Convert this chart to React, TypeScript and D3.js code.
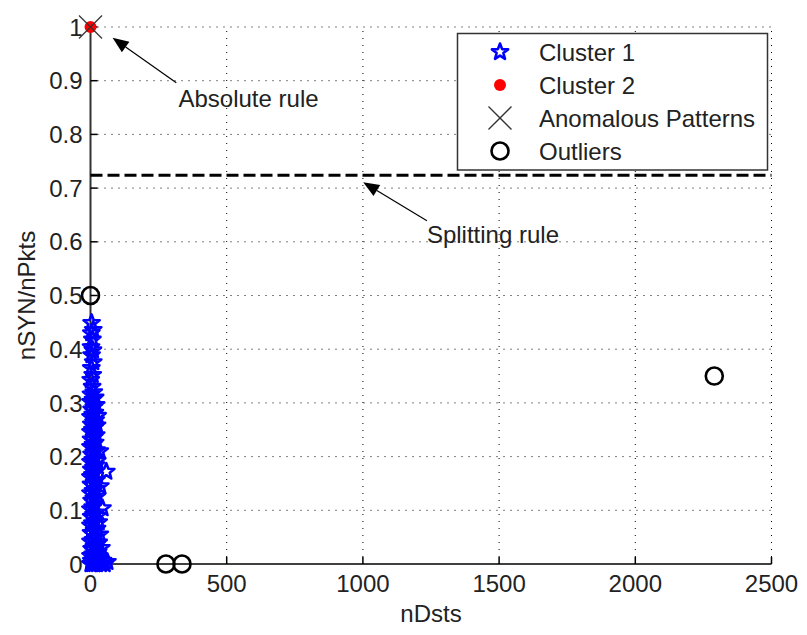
import React from "react";
import * as d3 from "d3";

const W = 807;
const H = 635;

const xTicks = [0, 500, 1000, 1500, 2000, 2500];
const xTickLabels = ["0", "500", "1000", "1500", "2000", "2500"];
const yTicks = [0, 0.1, 0.2, 0.3, 0.4, 0.5, 0.6, 0.7, 0.8, 0.9, 1];
const yTickLabels = ["0", "0.1", "0.2", "0.3", "0.4", "0.5", "0.6", "0.7", "0.8", "0.9", "1"];

// Cluster 1: [nDsts, nSYN/nPkts]
const cluster1: [number, number][] = [
  [0, 0], [6, 0], [14, 0], [24, 0], [38, 0], [52, 0], [62, 0.004],
  [3, 0.006], [11, 0.008], [20, 0.01], [32, 0.012], [46, 0.006],
  [0, 0.015], [8, 0.018], [16, 0.02], [28, 0.022], [40, 0.03],
  [4, 0.028], [12, 0.032], [22, 0.036], [30, 0.04],
  [0, 0.042], [9, 0.045], [18, 0.05], [34, 0.055],
  [2, 0.058], [13, 0.062], [24, 0.066],
  [0, 0.072], [7, 0.076], [16, 0.08], [30, 0.078],
  [3, 0.088], [11, 0.092], [20, 0.096], [26, 0.09],
  [0, 0.102], [8, 0.106], [16, 0.11], [44, 0.104],
  [4, 0.118], [12, 0.122], [24, 0.126],
  [0, 0.132], [9, 0.136], [17, 0.14], [36, 0.145],
  [2, 0.148], [13, 0.152], [22, 0.156],
  [0, 0.162], [7, 0.166], [15, 0.17], [58, 0.172],
  [3, 0.176], [11, 0.18], [20, 0.184],
  [0, 0.19], [8, 0.194], [16, 0.198], [25, 0.192],
  [4, 0.204], [12, 0.208], [22, 0.212], [34, 0.21],
  [0, 0.218], [9, 0.222], [17, 0.226],
  [2, 0.232], [13, 0.236], [21, 0.24],
  [0, 0.246], [7, 0.25], [15, 0.254], [24, 0.258],
  [3, 0.26], [11, 0.264], [19, 0.268],
  [0, 0.274], [8, 0.278], [16, 0.282], [26, 0.276],
  [4, 0.288], [12, 0.292], [20, 0.296],
  [0, 0.302], [9, 0.306], [17, 0.31],
  [2, 0.316], [12, 0.32], [6, 0.33],
  [1, 0.343], [8, 0.352], [3, 0.365], [10, 0.376], [4, 0.389],
  [9, 0.398], [2, 0.404], [7, 0.418], [3, 0.43], [10, 0.436], [4, 0.449],
];

const cluster2: [number, number][] = [[0, 1]];
const anomalous: [number, number][] = [[0, 1]];
const outliers: [number, number][] = [[0, 0.5], [277, 0], [336, 0], [2290, 0.35]];

const splitValue = 0.724;

const legendLabels = ["Cluster 1", "Cluster 2", "Anomalous Patterns", "Outliers"];

const annotations = [
  { text: "Absolute rule", textPos: [323, 0.851], tail: [315, 0.896], tip: [81, 0.98] },
  { text: "Splitting rule", textPos: [1235, 0.598], tail: [1235, 0.639], tip: [1001, 0.711] },
];

const FONT = "'Liberation Sans', Arial, Helvetica, sans-serif";

function starPath(cx: number, cy: number, R: number) {
  const r = R * 0.42;
  const pts: string[] = [];
  for (let i = 0; i < 10; i++) {
    const a = -Math.PI / 2 + (i * Math.PI) / 5;
    const rr = i % 2 === 0 ? R : r;
    pts.push(`${cx + rr * Math.cos(a)},${cy + rr * Math.sin(a)}`);
  }
  return "M" + pts.join("L") + "Z";
}

function Star({ cx, cy }: { cx: number; cy: number }) {
  return <path d={starPath(cx, cy, 8.5)} fill="none" stroke="#0000ff" strokeWidth={2.6} strokeLinejoin="round" />;
}
function RedDot({ cx, cy }: { cx: number; cy: number }) {
  return <circle cx={cx} cy={cy} r={6} fill="#ff0000" />;
}
function Cross({ cx, cy }: { cx: number; cy: number }) {
  const s = 11.5;
  return (
    <g stroke="#333" strokeWidth={1.3}>
      <line x1={cx - s} y1={cy - s} x2={cx + s} y2={cy + s} />
      <line x1={cx - s} y1={cy + s} x2={cx + s} y2={cy - s} />
    </g>
  );
}
function Ring({ cx, cy }: { cx: number; cy: number }) {
  return <circle cx={cx} cy={cy} r={8.5} fill="none" stroke="#000" strokeWidth={2.6} />;
}

export default function App() {
  const x = d3.scaleLinear().domain([0, 2500]).range([90.5, 771.5]);
  const y = d3.scaleLinear().domain([0, 1]).range([564, 27]);

  const x0 = x(0);
  const x1 = x(2500);
  const y0 = y(0);
  const y1 = y(1);

  return (
    <svg
      width={W}
      height={H}
      viewBox={`0 0 ${W} ${H}`}
      style={{ position: "absolute", left: 0, top: 0, background: "#fff" }}
      fontFamily={FONT}
    >
      <rect x={0} y={0} width={W} height={H} fill="#fff" />
      {/* grid */}
      <g stroke="#000" strokeWidth={1} strokeDasharray="1 6">
        {xTicks.filter((t) => t !== 0).map((t) => (
          <line key={"gx" + t} x1={x(t)} x2={x(t)} y1={y0} y2={y1} />
        ))}
        {yTicks.filter((t) => t !== 0).map((t) => (
          <line key={"gy" + t} x1={x0} x2={x1} y1={y(t)} y2={y(t)} />
        ))}
      </g>
      {/* axes */}
      <line x1={x0} x2={x0} y1={y0} y2={y1} stroke="#333" strokeWidth={2} />
      <line x1={x0} x2={x1} y1={y0} y2={y0} stroke="#000" strokeWidth={1.5} />
      <g stroke="#000" strokeWidth={1.5}>
        {xTicks.map((t) => (
          <line key={"tx" + t} x1={x(t)} x2={x(t)} y1={y0} y2={y0 - 7} />
        ))}
        {yTicks.map((t) => (
          <line key={"ty" + t} x1={x0} x2={x0 + 7} y1={y(t)} y2={y(t)} />
        ))}
      </g>
      {/* tick labels */}
      <g fontSize={24} fill="#222">
        {xTicks.map((t, i) => (
          <text key={"lx" + t} x={x(t)} y={592} textAnchor="middle">
            {xTickLabels[i]}
          </text>
        ))}
        {yTicks.map((t, i) => (
          <text key={"ly" + t} x={x0 - 8} y={y(t)} dy="0.36em" textAnchor="end">
            {yTickLabels[i]}
          </text>
        ))}
      </g>
      {/* axis titles */}
      <text x={(x0 + x1) / 2} y={622} textAnchor="middle" fontSize={24} fill="#222">
        nDsts
      </text>
      <text
        transform={`translate(35, ${(y0 + y1) / 2}) rotate(-90)`}
        textAnchor="middle"
        fontSize={24}
        fill="#222"
      >
        nSYN/nPkts
      </text>
      {/* splitting rule line */}
      <line
        x1={x(0)}
        x2={x(2500)}
        y1={y(splitValue)}
        y2={y(splitValue)}
        stroke="#000"
        strokeWidth={3}
        strokeDasharray="12 5"
      />
      {/* data */}
      <g>
        {cluster1.map((d, i) => (
          <Star key={"c1" + i} cx={x(d[0])} cy={y(d[1])} />
        ))}
      </g>
      {cluster2.map((d, i) => (
        <RedDot key={"c2" + i} cx={x(d[0])} cy={y(d[1])} />
      ))}
      {anomalous.map((d, i) => (
        <Cross key={"an" + i} cx={x(d[0])} cy={y(d[1])} />
      ))}
      {outliers.map((d, i) => (
        <Ring key={"ou" + i} cx={x(d[0])} cy={y(d[1])} />
      ))}
      {/* annotations */}
      {annotations.map((a, i) => {
        const tx = x(a.tail[0]);
        const ty = y(a.tail[1]);
        const px = x(a.tip[0]);
        const py = y(a.tip[1]);
        const ang = Math.atan2(py - ty, px - tx);
        const L = 16;
        const hw = 6.5;
        const bx = px - L * Math.cos(ang);
        const by = py - L * Math.sin(ang);
        const nx = -Math.sin(ang);
        const ny = Math.cos(ang);
        return (
          <g key={"ann" + i}>
            <line x1={tx} y1={ty} x2={bx} y2={by} stroke="#000" strokeWidth={1.2} />
            <path
              d={`M${px},${py}L${bx + nx * hw},${by + ny * hw}L${bx - nx * hw},${by - ny * hw}Z`}
              fill="#000"
            />
            <text x={x(a.textPos[0])} y={y(a.textPos[1])} fontSize={24} fill="#222">
              {a.text}
            </text>
          </g>
        );
      })}
      {/* legend */}
      <g>
        <rect x={457.5} y={33.5} width={310} height={136.5} fill="#fff" stroke="#333" strokeWidth={1.5} />
        {legendLabels.map((lab, i) => {
          const cy = 52 + i * 33;
          const cx = 500;
          let marker;
          if (i === 0) marker = <Star cx={cx} cy={cy} />;
          else if (i === 1) marker = <RedDot cx={cx} cy={cy} />;
          else if (i === 2) marker = <Cross cx={cx} cy={cy} />;
          else marker = <Ring cx={cx} cy={cy} />;
          return (
            <g key={"lg" + i}>
              {marker}
              <text x={539} y={cy + 9} fontSize={24} fill="#222">
                {lab}
              </text>
            </g>
          );
        })}
      </g>
    </svg>
  );
}
